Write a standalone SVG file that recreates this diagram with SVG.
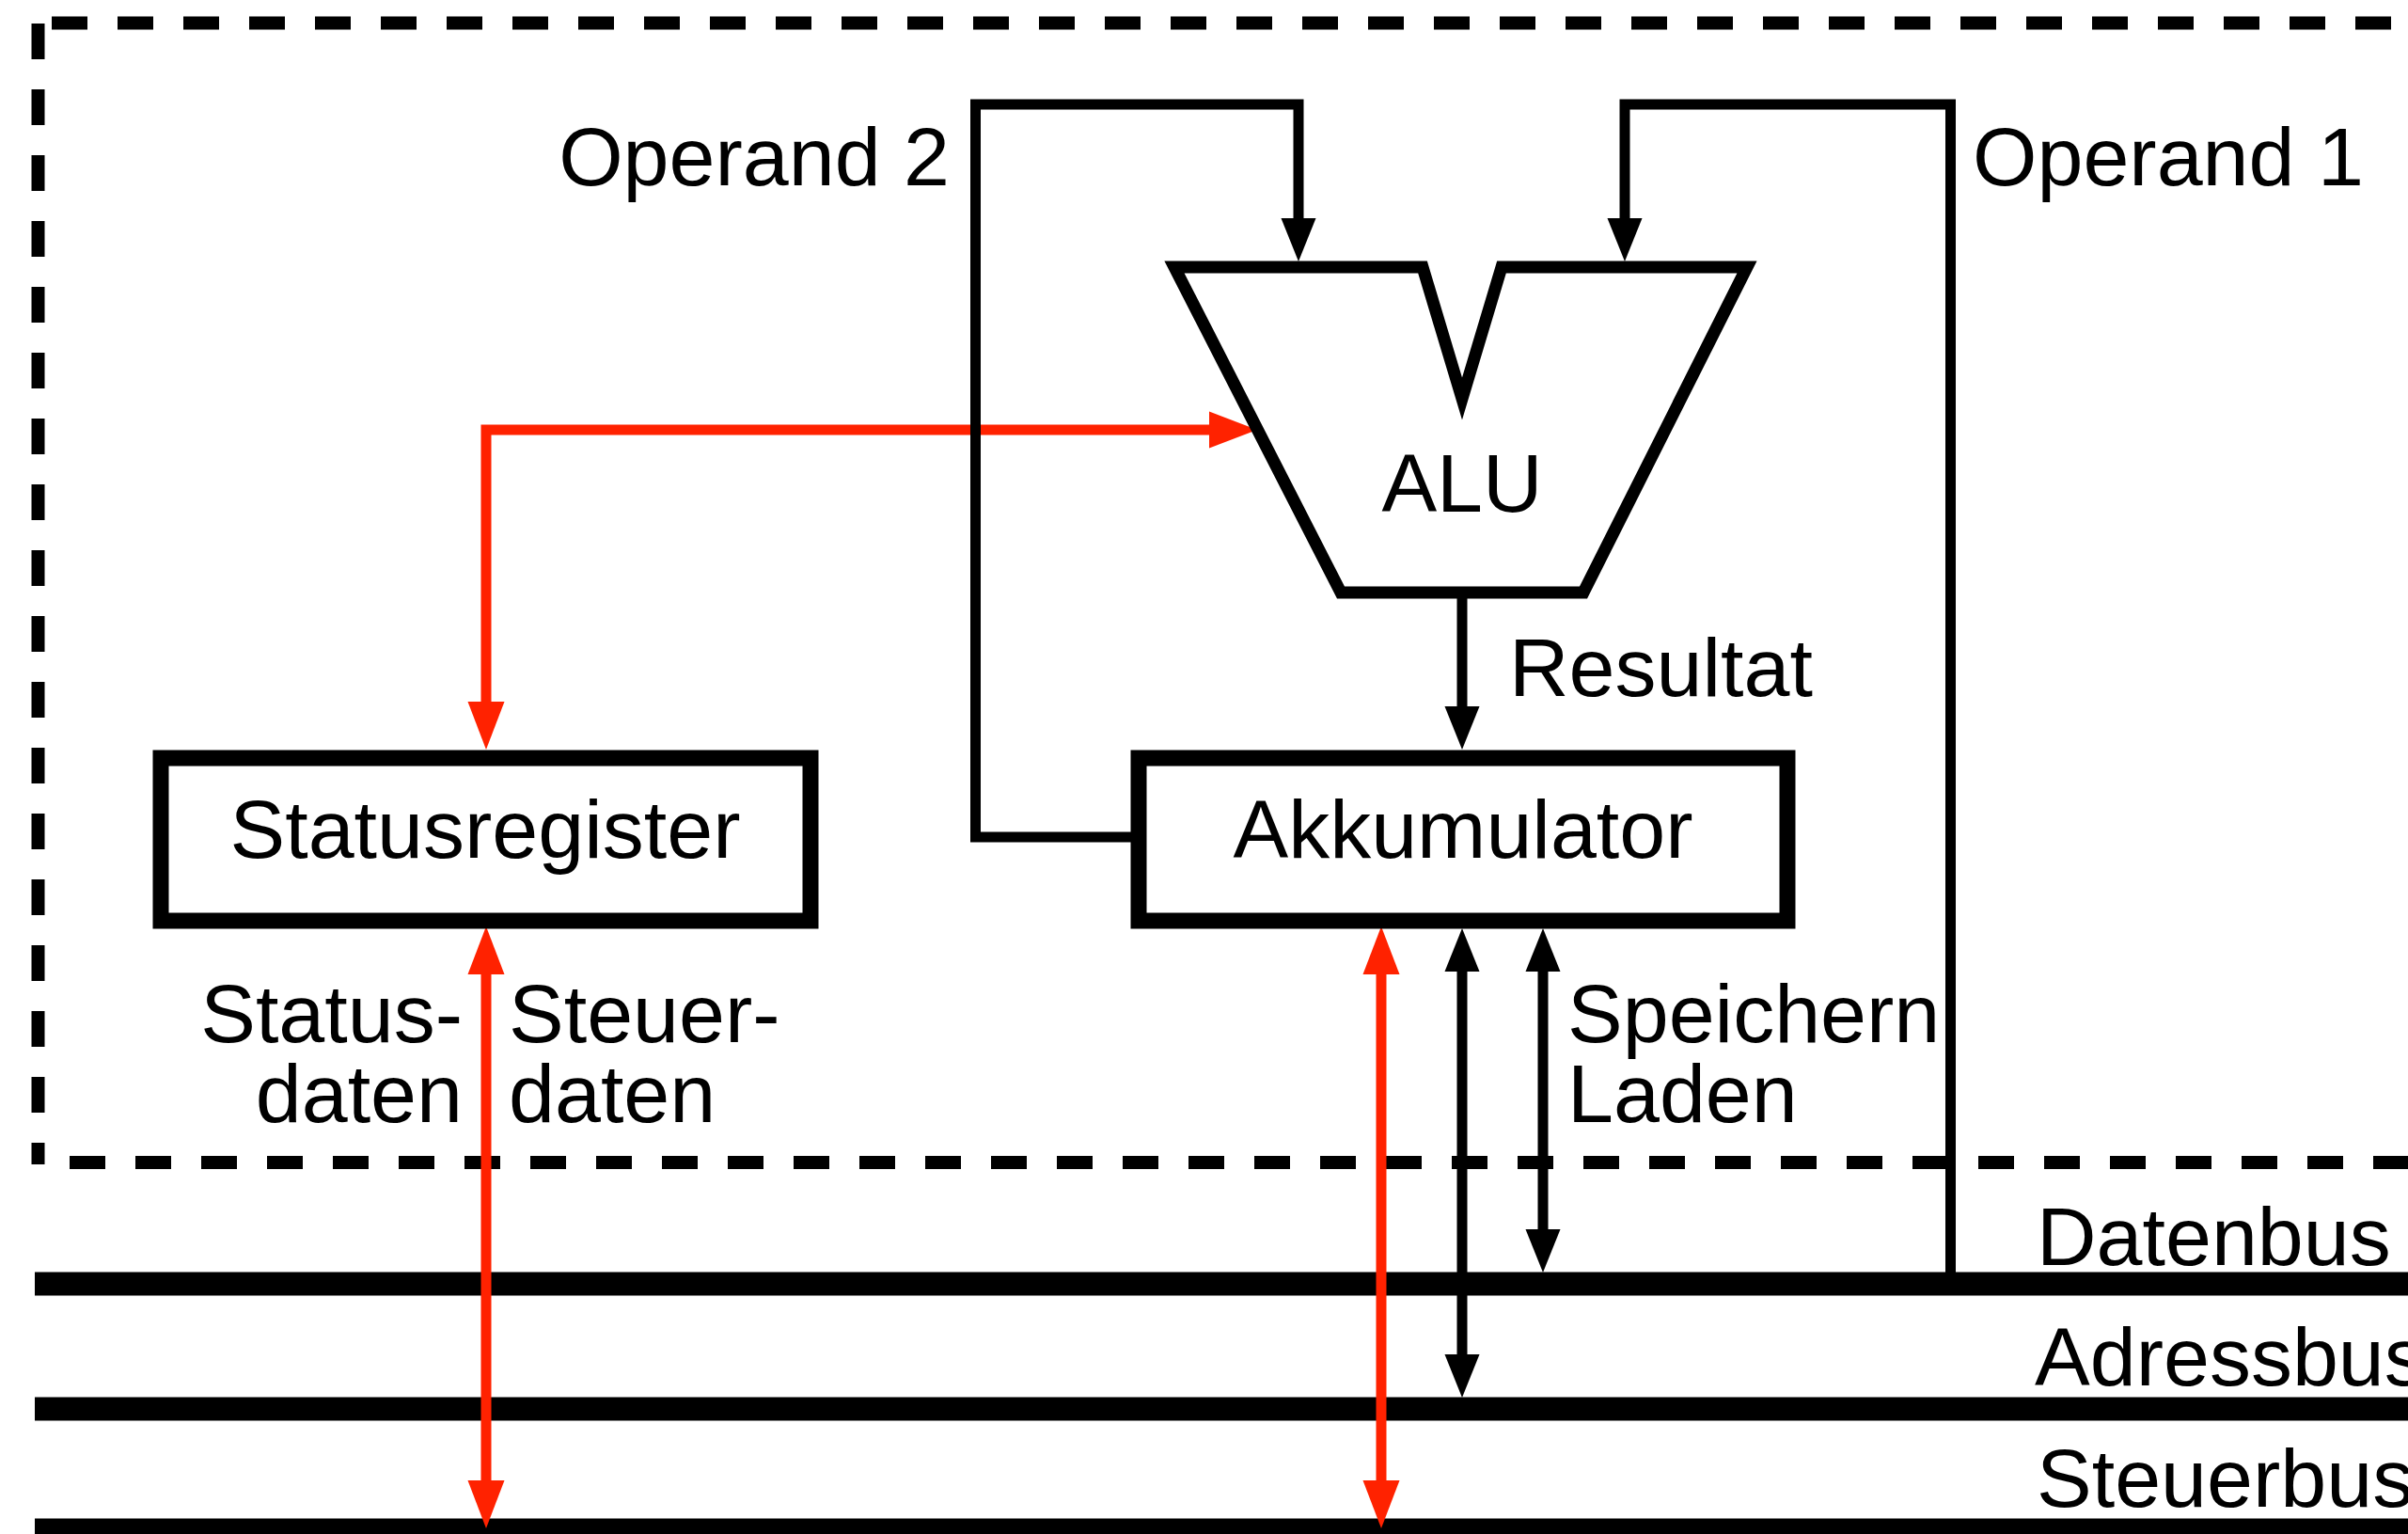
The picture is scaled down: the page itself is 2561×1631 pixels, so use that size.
<svg xmlns="http://www.w3.org/2000/svg" width="2561" height="1631" viewBox="0 0 2561 1631">
<style>
  .txt { font-family: "Liberation Sans", Arial, Helvetica, sans-serif; font-size: 88px; fill: #000; }
  .mid { text-anchor: middle; }
  .end { text-anchor: end; }
  .dash { stroke: #000; stroke-width: 14; stroke-dasharray: 38 32; fill: none; }
  .bus { stroke: #000; stroke-width: 25; fill: none; }
  .blk { stroke: #000; stroke-width: 11; fill: none; }
  .red { stroke: #ff2200; stroke-width: 11; fill: none; }
  .box { stroke: #000; stroke-width: 17; fill: #fff; }
  .alu { stroke: #000; stroke-width: 13; fill: #fff; stroke-miterlimit: 20; }
</style>
<defs>
  <marker id="ab" markerUnits="userSpaceOnUse" viewBox="0 -20 48 40" refX="0" refY="0" markerWidth="48" markerHeight="40" orient="auto-start-reverse" overflow="visible">
    <path d="M0,-18.5 L46,0 L0,18.5 Z" fill="#000"/>
  </marker>
  <marker id="ar" markerUnits="userSpaceOnUse" viewBox="0 -20 54 40" refX="0" refY="0" markerWidth="54" markerHeight="40" orient="auto-start-reverse" overflow="visible">
    <path d="M0,-19.5 L51,0 L0,19.5 Z" fill="#ff2200"/>
  </marker>
</defs>
<rect width="2561" height="1631" fill="#fff"/>

<g id="cpu-boundary">
  <line class="dash" x1="40.5" y1="25" x2="40.5" y2="1238"/>
  <line class="dash" x1="55" y1="24.5" x2="2600" y2="24.5"/>
  <line class="dash" x1="74" y1="1236" x2="2600" y2="1236"/>
</g>

<g id="buses">
  <g id="datenbus">
    <line class="bus" x1="37" y1="1365" x2="2561" y2="1365"/>
    <text class="txt" x="2166" y="1345">Datenbus</text>
  </g>
  <g id="adressbus">
    <line class="bus" x1="37" y1="1498" x2="2561" y2="1498"/>
    <text class="txt" x="2164" y="1473">Adressbus</text>
  </g>
  <g id="steuerbus">
    <line class="bus" x1="37" y1="1627" x2="2561" y2="1627"/>
    <text class="txt" x="2166" y="1602">Steuerbus</text>
  </g>
</g>

<g id="connectors">
  <path class="red" d="M1286,457 H517 V746" marker-start="url(#ar)" marker-end="url(#ar)"/>
  <path class="red" d="M517,1036 V1574" marker-start="url(#ar)" marker-end="url(#ar)"/>
  <path class="red" d="M1469,1036 V1574" marker-start="url(#ar)" marker-end="url(#ar)"/>
  <path class="blk" d="M1211,890 H1037.5 V111 H1381 V232" marker-end="url(#ab)"/>
  <path class="blk" d="M2074.5,1353 V111 H1728 V232" marker-end="url(#ab)"/>
  <path class="blk" d="M1555,636 V751" marker-end="url(#ab)"/>
  <path class="blk" d="M1555,1033 V1440" marker-start="url(#ab)" marker-end="url(#ab)"/>
  <path class="blk" d="M1641,1033 V1307" marker-start="url(#ab)" marker-end="url(#ab)"/>
</g>

<g id="alu">
  <path class="alu" d="M1249,284 L1513,284 L1555,424 L1597,284 L1858,284 L1684,630 L1426,630 Z"/>
  <text class="txt mid" x="1555" y="544">ALU</text>
</g>

<g id="akkumulator">
  <rect class="box" x="1211" y="806" width="690" height="173"/>
  <text class="txt mid" x="1556" y="912">Akkumulator</text>
</g>

<g id="statusregister">
  <rect class="box" x="171" y="806" width="691" height="173"/>
  <text class="txt mid" x="516" y="912">Statusregister</text>
</g>

<g id="labels">
  <text class="txt end" x="1010" y="197">Operand 2</text>
  <text class="txt" x="2098" y="197">Operand 1</text>
  <text class="txt" x="1605" y="740">Resultat</text>
  <text class="txt end" x="492" y="1108">Status-</text>
  <text class="txt end" x="492" y="1193">daten</text>
  <text class="txt" x="541" y="1108">Steuer-</text>
  <text class="txt" x="541" y="1193">daten</text>
  <text class="txt" x="1667" y="1108">Speichern</text>
  <text class="txt" x="1667" y="1193">Laden</text>
</g>
</svg>
